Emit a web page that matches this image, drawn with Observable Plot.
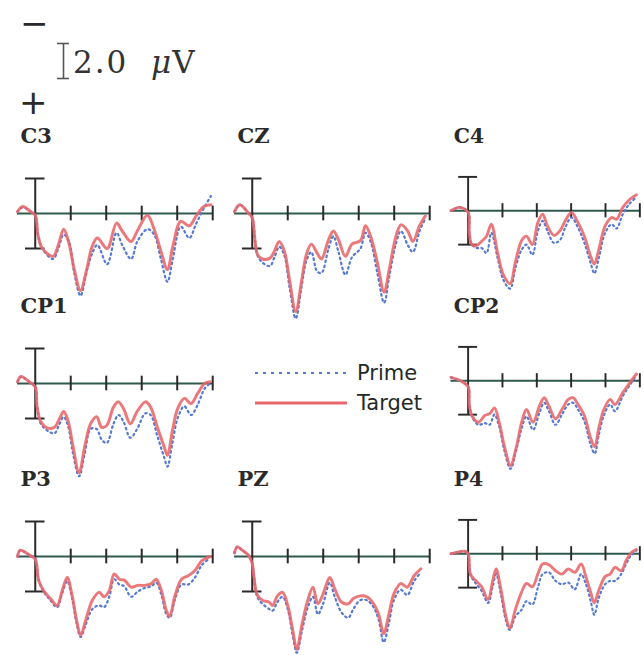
<!DOCTYPE html>
<html><head><meta charset="utf-8">
<script src="https://cdn.jsdelivr.net/npm/d3@7"></script>
<script src="https://cdn.jsdelivr.net/npm/@observablehq/plot@0.6"></script>
<style>
html,body{margin:0;padding:0;background:#fff;overflow:hidden;}
#fig{position:relative;width:644px;height:655px;overflow:hidden;background:#fff;}
.panel{position:absolute;}
.abs{position:absolute;white-space:nowrap;color:#2a2a2a;}
</style></head><body><div id="fig"></div>
<script>
// ---- data (time in ms, amplitude in µV; negative plotted up) ----
const tickTimes = [200, 400, 600, 800, 1000];
const scaleBarMicrovolts = 2.0;
const gridOrder = ["C3", "CZ", "C4", "CP1", null, "CP2", "P3", "PZ", "P4"];
const seriesNames = ["Prime", "Target"];

const c3Times  = [-100,-70,-25,0,15,40,100,130,160,190,220,255,290,320,350,405,458,490,540,575,632,670,708,745,775,820,868,906,950,990];
const c3Target = [-0.1,-0.4,-0.1,0.1,1.2,2.0,2.45,1.8,0.9,1.7,3.2,4.4,3.2,1.9,1.4,2.0,0.55,1.0,1.6,1.0,0.1,0.9,2.15,3.2,1.9,0.45,0.7,0.15,-0.4,-0.5];
const c3Prime  = [-0.1,-0.35,-0.1,0.1,1.2,2.0,2.6,2.0,1.2,1.6,3.4,4.7,3.3,2.3,1.8,2.9,1.1,1.8,2.6,1.6,0.9,1.2,2.6,3.9,2.6,0.75,1.4,0.6,-0.3,-1.0];

const czTimes  = [-100,-70,-20,0,15,30,57,100,125,152,181,210,245,276,305,333,365,390,430,457,486,525,562,610,638,667,705,743,772,810,838,876,905,943,975];
const czTarget = [-0.1,-0.5,0,0.25,1.5,2.35,2.6,2.55,2.15,1.6,2.15,3.8,5.6,4.0,2.35,1.75,2.25,2.6,1.5,1.0,1.5,2.45,1.75,1.55,0.7,1.3,2.8,4.5,3.2,1.3,0.65,1.0,1.6,0.7,0.15];
const czPrime  = [-0.1,-0.5,0,0.25,1.5,2.4,2.8,3.0,2.5,1.9,2.4,4.2,6.0,4.3,2.7,2.2,3.3,3.4,2.0,1.3,2.2,3.5,2.5,2.0,1.1,1.6,3.4,5.1,3.6,1.7,1.0,1.8,2.2,1.0,0.3];

const c4Times  = [-100,-50,0,7,22,50,79,107,135,172,206,245,275,312,340,374,406,434,462,500,537,565,602,640,677,714,735,761,798,836,864,901,939,980];
const c4Target = [0,-0.2,0.1,1.3,2.0,2.05,1.8,1.5,0.8,2.5,3.8,4.3,3.05,1.75,1.5,2.0,0.7,0.2,0.9,1.45,1.15,0.6,0.1,0.7,1.5,2.7,3.15,2.3,0.9,0.4,0.5,-0.2,-0.65,-0.95];
const c4Prime  = [0,-0.2,0.1,1.3,2.0,2.2,2.2,2.5,1.3,2.8,4.1,4.6,3.4,2.3,2.0,2.6,1.2,0.6,1.2,1.9,1.7,1.0,0.4,1.0,1.9,3.1,3.7,2.8,1.3,0.8,1.05,0.2,-0.4,-0.8];

const cp1Times  = [-100,-80,-35,0,10,32,70,108,137,160,184,213,247,279,312,346,374,403,441,469,498,536,574,621,650,688,726,745,773,802,840,878,916,954,985];
const cp1Target = [-0.1,-0.4,-0.1,0.2,1.3,2.2,2.55,2.5,2.0,1.6,2.1,3.6,5.1,3.6,2.3,1.9,2.5,2.4,1.35,1.05,1.45,2.3,1.6,1.05,1.35,2.5,3.6,4.1,2.7,1.45,0.85,1.15,0.55,0,-0.1];
const cp1Prime  = [-0.1,-0.4,-0.1,0.2,1.3,2.3,2.7,2.85,2.3,1.9,2.4,4.0,5.3,4.0,2.6,2.6,3.2,3.4,2.3,1.8,2.2,3.1,2.6,1.7,1.8,3.0,4.2,4.75,3.4,2.0,1.3,1.8,1.2,0.3,0];

const cp2Times  = [-100,-45,0,7,22,60,97,125,153,181,213,247,280,312,340,378,415,443,471,509,546,583,611,640,677,714,737,761,789,827,855,901,939,980];
const cp2Target = [-0.2,0,0.35,1.4,2.05,2.45,2.05,1.95,1.6,2.45,3.95,5.0,3.95,2.45,1.7,2.45,1.5,1.0,1.5,2.25,1.7,1.1,1.0,1.4,2.05,3.4,3.9,2.8,1.75,1.1,1.4,0.7,0.15,-0.4];
const cp2Prime  = [-0.2,0,0.35,1.4,2.1,2.6,2.5,2.6,2.0,2.7,4.2,5.2,4.1,2.8,2.1,2.9,1.9,1.3,1.8,2.6,2.0,1.4,1.3,1.7,2.4,3.8,4.3,3.2,2.1,1.4,1.8,0.9,0.3,-0.3];

const p3Times  = [-100,-85,-28,0,19,47,85,123,152,180,208,233,256,284,322,360,388,417,445,474,502,540,578,616,654,682,711,739,758,786,824,862,900,938,985];
const p3Target = [0,-0.35,-0.05,0.15,1.35,1.95,2.4,2.8,1.95,1.2,2.25,3.65,4.5,3.65,2.5,2.05,2.3,1.95,1.0,1.3,1.35,1.75,1.65,1.65,1.55,1.3,1.95,3.1,3.4,2.3,1.3,1.1,0.8,0.25,0];
const p3Prime  = [0,-0.35,-0.05,0.15,1.35,2.0,2.5,2.9,2.1,1.4,2.4,3.8,4.6,3.9,3.0,2.8,2.9,2.3,1.3,1.6,1.7,2.3,2.0,1.8,1.7,1.5,2.2,3.3,3.5,2.5,1.6,1.6,1.2,0.5,0.1];

const pzTimes  = [-100,-85,-55,-20,0,10,28,57,95,114,142,171,200,228,251,281,313,342,370,399,437,465,503,541,570,608,646,684,712,741,770,798,836,874,912,950];
const pzTarget = [-0.2,-0.55,-0.35,-0.05,0.4,1.2,2.2,2.5,2.6,2.8,2.25,2.05,2.8,4.2,5.3,3.85,2.5,1.75,2.7,2.15,1.2,1.85,2.6,2.7,2.4,2.25,2.3,2.7,3.3,4.4,3.3,2.15,1.55,1.75,1.1,0.7];
const pzPrime  = [-0.2,-0.55,-0.35,-0.05,0.4,1.2,2.3,2.7,3.0,3.1,2.6,2.3,3.0,4.5,5.5,4.2,2.9,2.3,3.3,2.7,1.5,2.3,3.2,3.5,3.0,2.5,2.5,2.9,3.6,4.9,3.8,2.5,1.9,2.2,1.4,0.9];

const p4Times  = [-100,-60,-20,0,13,41,79,116,144,163,191,219,243,275,312,340,374,406,434,471,509,546,583,621,658,686,714,735,761,798,827,855,892,920,948,980];
const p4Target = [0,-0.1,-0.15,0,1.2,1.55,1.95,2.7,1.55,0.9,2.1,3.65,4.4,3.3,2.25,1.75,1.95,1.2,0.6,0.65,1.0,1.2,0.9,1.1,0.6,1.35,2.3,2.9,2.15,1.35,1.2,0.8,1.0,0.4,-0.05,-0.25];
const p4Prime  = [0,-0.1,-0.15,0,1.2,1.7,2.2,2.9,1.9,1.2,2.4,3.9,4.5,3.7,3.3,2.8,3.0,2.0,1.2,1.1,1.6,1.8,1.7,2.1,1.2,1.8,2.8,3.6,2.6,1.8,1.6,1.6,1.2,0.6,0.1,-0.2];

const channels = {
  C3:  {t: c3Times,  target: c3Target,  prime: c3Prime},
  CZ:  {t: czTimes,  target: czTarget,  prime: czPrime},
  C4:  {t: c4Times,  target: c4Target,  prime: c4Prime},
  CP1: {t: cp1Times, target: cp1Target, prime: cp1Prime},
  CP2: {t: cp2Times, target: cp2Target, prime: cp2Prime},
  P3:  {t: p3Times,  target: p3Target,  prime: p3Prime},
  PZ:  {t: pzTimes,  target: pzTarget,  prime: pzPrime},
  P4:  {t: p4Times,  target: p4Target,  prime: p4Prime}
};

// ---- styles / layout ----
const PX_PER_UV = 17.5;
const Y_DOMAIN = [-4.8, 5.2];
const X_DOMAIN = [-100, 1027];
const PANEL_W = 217, PANEL_H = (Y_DOMAIN[1] - Y_DOMAIN[0]) * PX_PER_UV;
const colLeft = [0, 217, 434];
const rowTop = [129, 299, 472];
const RED = "#e8676a", BLUE = "#5679d2", AXIS = "#2f5a4e", INK = "#2a2a2a";

const fig = document.getElementById("fig");

function panel(name) {
  const ch = channels[name];
  const tgt = ch.t.map((t, i) => ({t, v: ch.target[i]}));
  const prm = ch.t.map((t, i) => ({t, v: ch.prime[i]}));
  return Plot.plot({
    width: PANEL_W, height: PANEL_H,
    marginLeft: 17, marginRight: 0, marginTop: 0, marginBottom: 0,
    x: {domain: X_DOMAIN, axis: null},
    y: {domain: Y_DOMAIN, reverse: true, axis: null},
    style: {background: "transparent", overflow: "visible"},
    marks: [
      Plot.ruleY([0], {x1: -100, x2: 1000, stroke: AXIS, strokeWidth: 2}),
      Plot.ruleX(tickTimes, {y1: -0.42, y2: 0.42, stroke: INK, strokeWidth: 2}),
      Plot.ruleX([0], {y1: -2, y2: 2, stroke: INK, strokeWidth: 2}),
      Plot.ruleY([-2, 2], {x1: -55, x2: 55, stroke: INK, strokeWidth: 2}),
      Plot.line(prm, {x: "t", y: "v", stroke: BLUE, strokeWidth: 2.2, strokeDasharray: "1.6,3.4", curve: "catmull-rom"}),
      Plot.line(tgt, {x: "t", y: "v", stroke: RED, strokeWidth: 3, strokeOpacity: 0.88, curve: "catmull-rom"}),
      Plot.text([name], {text: d => d, frameAnchor: "top-left", dx: 3, dy: -1, lineAnchor: "top", textAnchor: "start",
        fontSize: 21, fontWeight: "bold", fontFamily: "DejaVu Serif", fill: INK})
    ]
  });
}

gridOrder.forEach((name, i) => {
  if (!name) return;
  const div = document.createElement("div");
  div.className = "panel";
  div.style.left = colLeft[i % 3] + "px";
  div.style.top = rowTop[Math.floor(i / 3)] + "px";
  div.appendChild(panel(name));
  fig.appendChild(div);
});

// ---- polarity / scale bar header ----
function addText(txt, css) {
  const d = document.createElement("div");
  d.className = "abs";
  d.innerHTML = txt;
  Object.assign(d.style, css);
  fig.appendChild(d);
  return d;
}
addText("\u2212", {left: "20px", top: "6px", font: "34px 'DejaVu Sans'", lineHeight: "34px"});
addText("+", {left: "19px", top: "85px", font: "34px 'DejaVu Sans'", lineHeight: "34px"});

const bar = Plot.plot({
  width: 14, height: scaleBarMicrovolts * PX_PER_UV + 4,
  marginTop: 2, marginBottom: 2, marginLeft: 0, marginRight: 0,
  x: {domain: [-1, 1], axis: null},
  y: {domain: [0, scaleBarMicrovolts], reverse: true, axis: null},
  style: {background: "transparent", overflow: "visible"},
  marks: [
    Plot.ruleX([0], {y1: 0, y2: scaleBarMicrovolts, stroke: "#555", strokeWidth: 1.6}),
    Plot.ruleY([0, scaleBarMicrovolts], {x1: -0.85, x2: 0.85, stroke: "#555", strokeWidth: 1.6})
  ]
});
const barDiv = document.createElement("div");
barDiv.className = "panel";
barDiv.style.left = "56px"; barDiv.style.top = "41px";
barDiv.appendChild(bar);
fig.appendChild(barDiv);

addText(scaleBarMicrovolts.toFixed(1), {left: "73px", top: "47px", font: "31px 'DejaVu Serif'", lineHeight: "31px", letterSpacing: "2px", color: "#333"});
addText("<i>\u03bc</i>V", {left: "151px", top: "47px", font: "31px 'DejaVu Serif'", lineHeight: "31px", letterSpacing: "1px", color: "#333"});

// ---- legend ----
const legend = document.createElement("div");
legend.className = "abs";
Object.assign(legend.style, {left: "255px", top: "358px"});
seriesNames.forEach((s, i) => {
  const row = document.createElement("div");
  Object.assign(row.style, {display: "flex", alignItems: "center", height: "30px"});
  const dash = s === "Prime" ? "stroke-dasharray='3,5'" : "";
  const col = s === "Prime" ? BLUE : RED;
  row.innerHTML = `<svg width="94" height="8" style="display:block"><line x1="0" x2="92" y1="4" y2="4" stroke="${col}" stroke-width="${s === "Prime" ? 2 : 2.8}" ${dash}/></svg>` +
    `<span style="font:21px 'DejaVu Sans';color:#1f2a26;margin-left:8px;line-height:30px">${s}</span>`;
  legend.appendChild(row);
});
fig.appendChild(legend);
</script>
</body></html>
